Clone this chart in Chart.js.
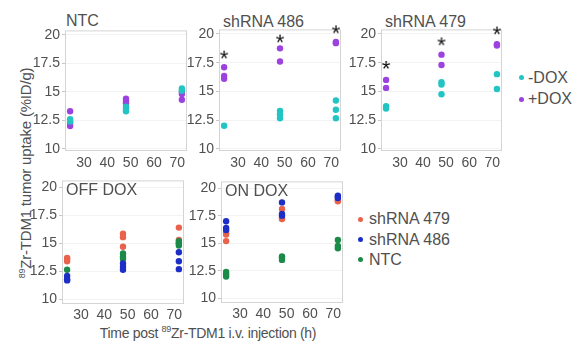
<!DOCTYPE html>
<html>
<head>
<meta charset="utf-8">
<script src="https://cdn.jsdelivr.net/npm/chart.js@4.4.0/dist/chart.umd.min.js"></script>
<style>
  body { margin: 0; background: #fff; width: 580px; height: 347px; position: relative; overflow: hidden;
         font-family: "Liberation Sans", Arial, sans-serif; color: #505050; }
  canvas { position: absolute; }
  .lbl { position: absolute; white-space: nowrap; line-height: 16px; font-size: 16px; }
  .dot { position: absolute; width: 5px; height: 5px; border-radius: 50%; }
  .axt { position: absolute; white-space: nowrap; transform: translate(-50%, -50%); }
  .axt sup { font-size: 9px; vertical-align: 6px; line-height: 0; }
</style>
</head>
<body>

<div class="lbl" style="left:66px;top:13px">NTC</div>
<div class="lbl" style="left:223px;top:14px">shRNA 486</div>
<div class="lbl" style="left:385px;top:14px">shRNA 479</div>

<span class="dot" style="left:519px;top:75px;background:#22c4c4"></span>
<div class="lbl" style="left:528px;top:70px">-DOX</div>
<span class="dot" style="left:519px;top:97px;background:#9b42e0"></span>
<div class="lbl" style="left:528px;top:91px">+DOX</div>

<span class="dot" style="left:358px;top:217px;background:#e8624c"></span>
<div class="lbl" style="left:369px;top:211px">shRNA 479</div>
<span class="dot" style="left:358px;top:237px;background:#1c2ec6"></span>
<div class="lbl" style="left:369px;top:232px">shRNA 486</div>
<span class="dot" style="left:358px;top:257px;background:#1c8a48"></span>
<div class="lbl" style="left:369px;top:252px">NTC</div>

<div class="axt" style="left:25px;top:173px;transform:translate(-50%,-50%) rotate(-90deg);font-size:15px;letter-spacing:-0.2px"><sup>89</sup>Zr-TDM1 tumor uptake (%ID/g)</div>
<div class="axt" style="left:208px;top:333px;font-size:14px;letter-spacing:-0.3px">Time post <sup>89</sup>Zr-TDM1 i.v. injection (h)</div>

<script>
// time points (h) and axis ticks
const TIMES = [24, 48, 72];
const X_TICKS = [30, 40, 50, 60, 70];
const Y_TICKS = [10, 12.5, 15, 17.5, 20];

// top row: -DOX / +DOX, values per time point
const NTC_MINUS = [[12.6, 12.4], [13.7, 13.5, 13.3], [15.3, 15.1]];
const NTC_PLUS = [[13.3, 12.3, 12.0], [14.4, 14.2, 14.0], [15.0, 14.8, 14.3]];
const SH486_MINUS = [[12.0], [13.3, 13.0, 12.65], [14.2, 13.4, 12.65]];
const SH486_PLUS = [[17.1, 16.35, 16.1], [18.75, 17.6], [19.3, 19.2]];
const SH486_STARS = [18.2, 19.6, 20.4];
const SH479_MINUS = [[13.7, 13.5], [15.8, 15.6, 14.75], [16.5, 15.2]];
const SH479_PLUS = [[16.0, 15.3], [18.2, 17.3], [19.1, 19.0]];
const SH479_STARS = [17.3, 19.35, 20.3];

// bottom row: shRNA 479 / shRNA 486 / NTC
const OFF_479 = [[13.7, 13.6, 13.4], [15.85, 15.55, 14.7], [16.4, 15.3, 15.0]];
const OFF_486 = [[12.1, 11.8, 11.7], [13.2, 12.9, 12.65], [14.2, 13.4, 12.7]];
const OFF_NTC = [[12.65], [14.1, 13.8, 13.6], [15.2, 15.0, 14.8]];
const ON_479 = [[16.0, 15.8, 15.2], [18.1, 17.3, 17.2], [18.9, 18.8]];
const ON_486 = [[17.0, 16.4, 16.2], [18.7, 17.65, 17.5], [19.3, 19.2, 19.1]];
const ON_NTC = [[12.4, 12.2, 12.0], [13.8, 13.7, 13.5], [15.3, 14.75, 14.55]];

const CYAN = '#22c4c4', PURPLE = '#9b42e0';
const RED = '#e8624c', BLUE = '#1c2ec6', GREEN = '#1c8a48';

const YW = 34, XH = 22, PAD_T = 10, PAD_R = 6;
const FONT = '"Liberation Sans", Arial, sans-serif';

// "*" glyph used as point style for the significance marks
const starImg = (() => {
    const c = document.createElement('canvas');
    c.width = 16; c.height = 16;
    const ctx = c.getContext('2d');
    ctx.font = '22px ' + FONT;
    ctx.fillStyle = '#111';
    ctx.textAlign = 'center';
    const m = ctx.measureText('*');
    const y = 8 + (m.actualBoundingBoxAscent - m.actualBoundingBoxDescent) / 2;
    ctx.fillText('*', 8, y);
    return c;
})();

function toPoints(values) {
    return TIMES.flatMap((t, i) => values[i].map(v => ({ x: t, y: v })));
}

function dots(values, color) {
    return { data: toPoints(values), backgroundColor: color, borderWidth: 0, pointRadius: 3.2, clip: false };
}

function stars(values) {
    return {
        data: TIMES.map((t, i) => ({ x: t, y: values[i] })),
        pointStyle: starImg, pointRadius: 8, clip: false
    };
}

// light grey box round each plot area, plus the in-panel title
const framePlugin = {
    id: 'frame',
    beforeDatasetsDraw(chart, args, opts) {
        const a = chart.chartArea, ctx = chart.ctx;
        ctx.save();
        ctx.strokeStyle = '#d4d4d4';
        ctx.lineWidth = 1;
        ctx.strokeRect(a.left + 0.5, a.top + 0.5, a.right - a.left - 1, a.bottom - a.top - 1);
        if (opts.title) {
            ctx.font = '16px ' + FONT;
            ctx.fillStyle = '#505050';
            ctx.textBaseline = 'alphabetic';
            ctx.fillText(opts.title, a.left + 4, a.top + 14.5);
        }
        ctx.restore();
    }
};

const tickFont = { family: FONT, size: 14 };

function makePanel(plot, yRange, xPad, datasets, title) {
    const [l, t, r, b] = plot;
    const canvas = document.createElement('canvas');
    const w = (r - l) + YW + PAD_R, h = (b - t) + PAD_T + XH;
    canvas.width = w; canvas.height = h;
    canvas.style.left = (l - YW) + 'px';
    canvas.style.top = (t - PAD_T) + 'px';
    canvas.style.width = w + 'px';
    canvas.style.height = h + 'px';
    document.body.appendChild(canvas);

    new Chart(canvas, {
        type: 'scatter',
        data: { datasets },
        options: {
            responsive: false,
            animation: false,
            devicePixelRatio: 1,
            layout: { padding: { top: PAD_T, right: PAD_R, left: 0, bottom: 0 } },
            plugins: { legend: { display: false }, tooltip: { enabled: false }, frame: { title } },
            scales: {
                x: {
                    type: 'linear', min: 21.8, max: 74.2,
                    afterBuildTicks: s => { s.ticks = X_TICKS.map(v => ({ value: v })); },
                    afterFit: s => { s.height = XH; },
                    grid: { display: false, drawTicks: false },
                    border: { display: false },
                    ticks: { font: tickFont, color: '#505050', padding: xPad, maxRotation: 0, autoSkip: false }
                },
                y: {
                    min: yRange[0], max: yRange[1],
                    afterBuildTicks: s => { s.ticks = Y_TICKS.map(v => ({ value: v })); },
                    afterFit: s => { s.width = YW; },
                    grid: { color: '#f3f3f3', tickColor: '#c8c8c8', tickLength: 3 },
                    border: { display: false },
                    ticks: { font: tickFont, color: '#505050', padding: 2, callback: v => String(v) }
                }
            }
        },
        plugins: [framePlugin]
    });
}

const TOP_Y = [9.8, 20.4];
const BOT_Y = [9.6, 20.6];

makePanel([65, 30, 187, 151], TOP_Y, 4, [dots(NTC_MINUS, CYAN), dots(NTC_PLUS, PURPLE)]);
makePanel([219, 29, 344, 151], TOP_Y, 4, [dots(SH486_MINUS, CYAN), dots(SH486_PLUS, PURPLE), stars(SH486_STARS)]);
makePanel([381, 29, 505, 151], TOP_Y, 4, [dots(SH479_MINUS, CYAN), dots(SH479_PLUS, PURPLE), stars(SH479_STARS)]);
makePanel([62, 180, 184, 304], BOT_Y, 3, [dots(OFF_486, BLUE), dots(OFF_NTC, GREEN), dots(OFF_479, RED)], 'OFF DOX');
makePanel([221, 181, 343, 303], BOT_Y, 3, [dots(ON_NTC, GREEN), dots(ON_486, BLUE), dots(ON_479, RED)], 'ON DOX');
</script>
</body>
</html>
